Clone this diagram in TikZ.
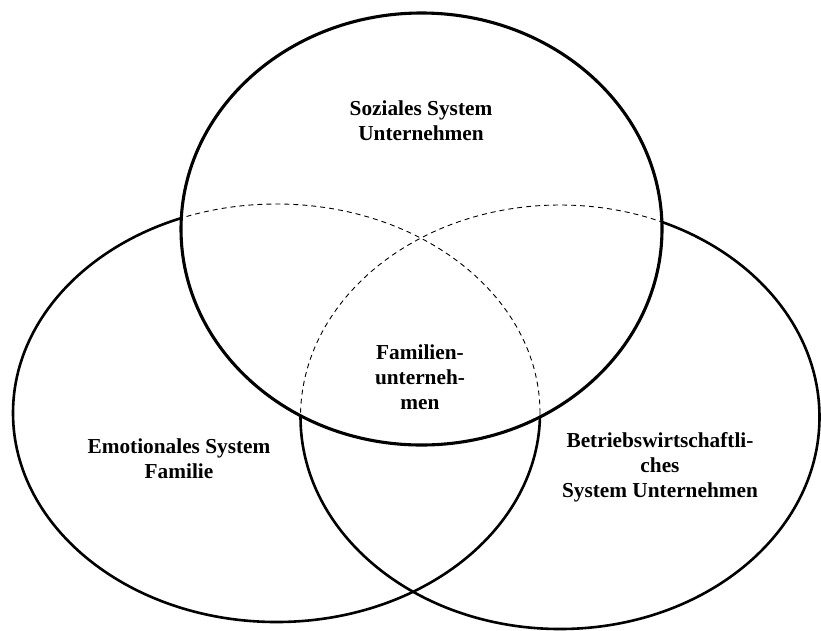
\documentclass[tikz,border=0pt]{standalone}
\usepackage{fontspec}
\setmainfont{Liberation Serif}
\begin{document}
\begin{tikzpicture}[x=1pt,y=-1pt,
  lbl/.style={font=\bfseries\fontsize{21.3}{25}\selectfont, align=center, inner sep=0pt},
  topring/.style={line width=3.1pt},
  sidering/.style={line width=2.6pt},
  hidden/.style={line width=0.9pt, dash pattern=on 5pt off 4pt}]
\useasboundingbox (0,0) rectangle (821,630);
% side ellipses: solid outside top ellipse
\begin{scope}[even odd rule]
  \clip (-10,-10) rectangle (831,640) (421.5,229) ellipse [x radius=240.5, y radius=216];
  \draw[sidering] (276.5,413) ellipse [x radius=263.5, y radius=209];
  \draw[sidering] (560,417) ellipse [x radius=259.5, y radius=212];
\end{scope}
% dashed inside top ellipse
\begin{scope}
  \clip (421.5,229) ellipse [x radius=240.5, y radius=216];
  \draw[hidden] (276.5,413) ellipse [x radius=263.5, y radius=209];
  \draw[hidden] (560,417) ellipse [x radius=259.5, y radius=212];
\end{scope}
\draw[topring] (421.5,229) ellipse [x radius=240.5, y radius=216];
\node[lbl] (soz) at (421,121) {Soziales System\\Unternehmen};
\node[lbl] (fam) at (420,377) {Familien-\\unterneh-\\men};
\node[lbl] (emo) at (179,459) {Emotionales System\\Familie};
\node[lbl] (bwl) at (660,467) {Betriebswirtschaftli-\\ches\\System Unternehmen};
\end{tikzpicture}
\end{document}
